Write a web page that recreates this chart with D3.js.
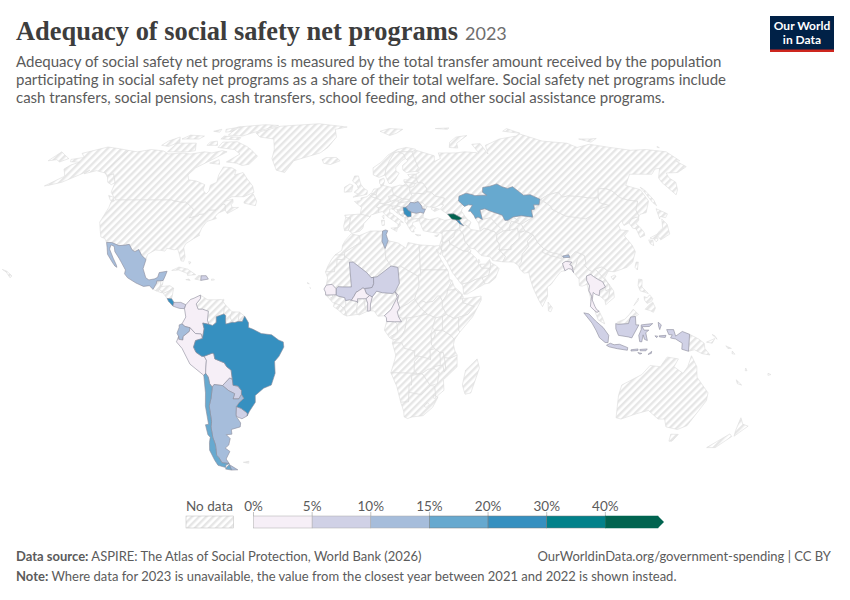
<!DOCTYPE html>
<html>
<head>
<meta charset="utf-8">
<script src="https://cdn.jsdelivr.net/npm/d3@7/dist/d3.min.js"></script>
<style>
  html, body { margin: 0; background: #fff; }
  text { font-family: Lato, sans-serif; }
</style>
</head>
<body>
<svg id="chart" width="850" height="600"></svg>
<script>
// Rough country outlines, "lon,lat lon,lat ...", one string per landmass.
const americas = {
  'United States': ['-123,49 -95,49 -94.6,48.7 -89.5,48 -88,48.2 -84.5,46.5 -82.5,45.3 -82.4,43 -83,42 -79,42.8 -79,43.3 -76.5,43.5 -75,45 -71.5,45 -70,46.5 -69,47.4 -67.8,47 -67,45 -70,43.7 -70.8,42.5 -70,41.7 -74,40.6 -75.5,38 -76,35.5 -75.5,35.3 -78,33.9 -81,32 -81.4,30.5 -80,27 -80.3,25.3 -81.5,25.5 -82.8,28 -84,30 -85.5,29.7 -89,30.3 -89.5,29.2 -91.5,29.5 -94,29.6 -97,28 -97.2,26 -99.5,27.5 -101.5,29.8 -103,29 -104.5,29.7 -106.5,31.8 -108.2,31.5 -111,31.3 -114.8,32.5 -117.1,32.5 -118.5,34 -120.6,34.6 -122.5,37.5 -124.3,40.3 -124,46 -124.7,48.4',
    '-141,69.6 -141,60.2 -137.5,58.9 -135,59.5 -130,55.9 -131,55 -134,56 -136.5,58 -140,59.8 -146,60.8 -151,59.5 -150,61 -153,59 -158,56 -163,54.8 -165,54.5 -160,58.5 -162,59.8 -165,61.5 -164,63.2 -161,64.4 -166.5,64.6 -168,65.6 -162,66.5 -166.5,68.3 -156.5,71.2 -148,70.4',
    '-160,22.2 -157.8,21.5 -155,19.7 -155.7,19 -158,21.2'],
  'Canada': ['-141,69.6 -135,69 -128,70 -120,69.4 -115,68 -108,68.5 -102,68 -95,69 -90,68.5 -85,69.5 -81.5,69 -87,65.5 -93,62 -94.5,59 -92.5,57 -88,56.5 -82.5,55 -82,52.8 -79.5,51.3 -78.8,52.5 -79.5,54.8 -77,56 -78,59 -78,62.4 -73,62 -70,61 -69.5,59 -65.5,60 -62,57.5 -57.5,54.5 -55.7,52 -60,50.2 -66,50.2 -69,48.5 -65,49.2 -64.5,48 -65,47 -64,46 -61,46 -65.5,43.6 -66.5,44.5 -67,45 -67.8,47 -69,47.4 -70,46.5 -71.5,45 -75,45 -76.5,43.5 -79,43.3 -79,42.8 -83,42 -82.4,43 -82.5,45.3 -84.5,46.5 -88,48.2 -89.5,48 -94.6,48.7 -95,49 -123,49 -124.7,50 -128,52 -130,55.9 -135,59.5 -137.5,58.9 -141,60.2',
    '-80,73.7 -72,71.5 -68,70 -62,67 -64.5,63.5 -68,63 -72,64 -78,64.5 -73,68 -78,70 -89,71 -89,73.5',
    '-117,69 -105,69 -101,69.5 -105,73 -117,73', '-125,72 -120,71.5 -116,73.5 -120,76 -124,74',
    '-90,77 -80,76.5 -76,78 -62,82.5 -72,83 -90,81.5', '-92,75 -80,74.6 -80,75.7 -92,76.5',
    '-117,75 -106,75 -105,76.5 -115,77', '-59,47.7 -53,46.7 -53,48.5 -56,51.5 -59,48.5',
    '-87,64 -81,63.5 -83,65.5', '-128,50.7 -125,50 -123.5,48.4 -125.5,48.8', '-97,72 -90.5,72 -93,74 -97,73.5',
    '-96,80 -88,81.5 -90,79 -94,78.5', '-103,79 -98,78.5 -99,80'],
  'Greenland': ['-73,78.2 -60,82 -33,83.6 -12,81.5 -20,80 -18,76 -22,71 -26,68.5 -40,65 -43,60 -48,61 -53,66 -54,70 -58,75 -68,76'],
  'Mexico': ['-117.1,32.5 -114.8,32.5 -111,31.3 -108.2,31.5 -106.5,31.8 -104.5,29.7 -103,29 -101.5,29.8 -99.5,27.5 -97.2,26 -97.8,22.5 -96,19 -94.5,18.2 -92,18.6 -90.8,19.2 -90.4,21 -87,21.5 -87.6,19.5 -88.2,18 -89.1,17.9 -91,17.8 -91,16.9 -92.2,14.6 -94,16 -96.5,15.7 -100,17 -104,19 -105.6,20.5 -105.5,22 -108,25 -109.4,26.5 -112,29 -113,31 -114.7,31.6 -114.7,30 -112,26.5 -110,24 -109.5,23 -110.5,23.5 -112,25 -115,28 -116,30.5'],
  'Guatemala': ['-92.2,14.6 -91,16.9 -91,17.8 -89.1,17.9 -89.2,15.9 -88.3,15.7 -89.3,14.5 -90.5,13.9'],
  'Belize': ['-89.1,17.9 -88.2,18 -88.3,16.2 -89.2,15.9'],
  'Honduras': ['-89.2,15.9 -88.3,15.7 -85,16 -83.2,15 -85,14 -87.5,13 -89.3,14.5'],
  'El Salvador': ['-90.1,13.8 -89.3,14.4 -87.7,13.6 -88,13.2'],
  'Nicaragua': ['-87.5,13 -85,14 -83.2,15 -83.7,11 -85.7,11.1'],
  'Costa Rica': ['-85.7,11.1 -83.7,11 -82.6,9.6 -83,8.2 -85,10'],
  'Panama': ['-83,8.2 -82.6,9.6 -79.6,9.6 -77.4,8.7 -77.9,7.2 -80,7.3 -81.5,7.7'],
  'Cuba': ['-85,21.8 -82,23.1 -78,22.3 -74.2,20.2 -77.7,19.9 -78,20.7 -82,22'],
  'Haiti': ['-74.4,18.5 -72.5,18.2 -71.7,18 -71.7,19.8 -73,19.9'],
  'Dominican Republic': ['-71.7,18 -68.4,18.5 -69.5,19.8 -71.7,19.8'],
  'Jamaica': ['-78.3,18.3 -76.3,18 -77,18.5'],
  'Puerto Rico': ['-67,18 -65.7,18.2 -66,18.5 -67,18.5'],
  'Trinidad': ['-61.9,10.1 -61,10.1 -61,10.8 -61.6,10.7'],
  'Bahamas': ['-78,25.2 -77.5,24.2 -77,25'],
  'Colombia': ['-77.4,8.7 -75.5,10.7 -74,11.2 -71.3,12.4 -71.2,11 -72.9,9 -72,7 -70,7 -67.5,6.2 -67.8,2.8 -67.2,1.2 -69.8,1.7 -69.2,-0.5 -70,-4.2 -70.5,-2.5 -73,-2.3 -75.3,-0.1 -77.5,0.4 -78.8,1.4 -77.2,4 -77.9,7.2'],
  'Venezuela': ['-71.3,12.4 -68,10.6 -64,10.6 -62,10.7 -60,8.5 -60.7,7.5 -60.7,5.2 -64,4.1 -64,1.9 -65.5,0.8 -67.2,1.2 -67.8,2.8 -67.5,6.2 -70,7 -72,7 -72.9,9 -71.2,11'],
  'Guyana': ['-60,8.5 -57.2,6 -58,4 -57,2 -59.8,1.3 -60,2.8 -59.9,4.5 -60.7,5.2 -60.7,7.5'],
  'Suriname': ['-57.2,6 -54,5.9 -54.5,2.3 -56,1.9 -57,2 -58,4'],
  'French Guiana': ['-54,5.9 -51.7,4.3 -52.7,2.3 -54.5,2.3'],
  'Ecuador': ['-80,1 -78.8,1.4 -77.5,0.4 -75.3,-0.1 -75.6,-1.5 -78.3,-3.4 -78.5,-4.8 -80.3,-4.5 -80.3,-3.4 -81,-2.2 -80,0'],
  'Peru': ['-80.3,-3.4 -80.3,-4.5 -78.5,-4.8 -78.3,-3.4 -75.6,-1.5 -75.3,-0.1 -73,-2.3 -70.5,-2.5 -70,-4.2 -73,-5 -74,-7.5 -73,-9.5 -70.6,-11 -69.6,-11 -68.7,-12.5 -69.2,-15.5 -69.5,-17.5 -70.4,-18.3 -76,-14 -79,-8 -81.3,-5.5'],
  'Bolivia': ['-69.6,-11 -66,-9.8 -65.3,-10 -65,-12 -61,-13.5 -60,-15 -58.2,-16.3 -58,-19.8 -59.1,-19.3 -62.6,-22.2 -66.3,-21.8 -67.2,-22.8 -68.2,-21.5 -68.5,-19 -69.5,-17.5 -69.2,-15.5 -68.7,-12.5'],
  'Paraguay': ['-58,-19.8 -57.9,-22.1 -55.8,-22.4 -54.4,-24.1 -54.6,-25.6 -56,-27.3 -58.6,-27.3 -57.6,-25.3 -60,-24.2 -62.6,-22.2 -59.1,-19.3'],
  'Uruguay': ['-58.4,-33.2 -58.4,-34 -56,-34.9 -53.4,-33.8 -53.1,-33 -53.5,-32.4 -55.6,-30.9 -57.6,-30.2'],
  'Brazil': ['-51.7,4.3 -50,1.8 -50,0 -48,-0.7 -44.5,-2.3 -40,-2.8 -37,-4.8 -35,-5.5 -34.8,-7.5 -37,-11 -39,-13 -39,-17.5 -41,-22 -44.5,-23.2 -48.5,-26 -48.8,-28.6 -52,-32 -53.4,-33.8 -53.1,-33 -53.5,-32.4 -55.6,-30.9 -57.6,-30.2 -56,-28.6 -53.8,-27.1 -54.6,-25.6 -54.4,-24.1 -55.8,-22.4 -57.9,-22.1 -58,-19.8 -58.2,-16.3 -60,-15 -61,-13.5 -65,-12 -65.3,-10 -66,-9.8 -69.6,-11 -70.6,-11 -73,-9.5 -74,-7.5 -73,-5 -70,-4.2 -69.2,-0.5 -69.8,1.7 -67.2,1.2 -65.5,0.8 -64,1.9 -64,4.1 -60.7,5.2 -59.9,4.5 -60,2.8 -59.8,1.3 -57,2 -56,1.9 -54.5,2.3 -52.7,2.3'],
  'Argentina': ['-66.3,-21.8 -62.6,-22.2 -60,-24.2 -57.6,-25.3 -58.6,-27.3 -56,-27.3 -54.6,-25.6 -53.8,-27.1 -56,-28.6 -57.6,-30.2 -58.4,-33.2 -58.4,-34 -57,-36.5 -57.6,-38 -62,-39 -62.3,-40.8 -65,-41 -63.7,-42.5 -65.3,-45 -67.5,-46.2 -65.8,-47.5 -69,-50.5 -68.4,-52.3 -71.9,-52 -72.3,-50 -73,-49 -71.7,-45 -71.8,-42 -71.2,-38 -70.3,-36 -70,-33 -69.8,-30 -68.4,-27 -67.2,-22.8',
    '-68.6,-52.7 -65.3,-54.8 -68.6,-54.9'],
  'Chile': ['-69.5,-17.5 -70.4,-18.3 -70.5,-25 -71.5,-30 -72,-37 -73.5,-37.2 -73.7,-41 -73,-42 -74.2,-44 -75.5,-47 -75,-51 -74.5,-53 -71,-53.9 -70.5,-53 -68.4,-52.3 -71.9,-52 -72.3,-50 -73,-49 -71.7,-45 -71.8,-42 -71.2,-38 -70.3,-36 -70,-33 -69.8,-30 -68.4,-27 -67.2,-22.8 -68.2,-21.5 -68.5,-19',
    '-68.6,-52.7 -68.6,-54.9 -71.5,-54.5 -70,-53.5'],
  'Falkland Islands': ['-61,-51.8 -58,-51.4 -58.5,-52.2']
};

const africa = {
  'Morocco': ['-5.9,35.8 -2.2,35.1 -1.3,32.1 -3.5,31.5 -8.7,28.7 -8.7,27.7 -13,27.7 -10,29.5 -9.7,31.5 -8.5,33.3'],
  'Western Sahara': ['-13,27.7 -8.7,27.7 -8.7,26 -12,26 -12,23.4 -13,23 -13,21.3 -17,21.3 -16,23.5 -14.5,26'],
  'Algeria': ['-2.2,35.1 3,36.9 8.6,36.9 8.2,33 9.5,30.2 9.8,26.5 12,23.5 5.8,19.4 4.2,19.2 3.2,19 1.2,21 -4.8,25 -8.7,27 -8.7,28.7 -3.5,31.5 -1.3,32.1'],
  'Tunisia': ['8.6,36.9 10,37.3 11,37 10.2,35.5 11,33.2 10.3,31.8 9.5,30.2 8.2,33'],
  'Libya': ['11,33.2 15.5,32.3 19,30.3 20,32.5 25,31.6 25,20 24,20 24,19.5 16,23.5 15,23 12,23.5 9.8,26.5 9.5,30.2 10.3,31.8'],
  'Egypt': ['25,31.6 32,31.2 34.3,31.3 34.9,29.5 34.2,27.8 32.6,29.9 33.7,27 35.5,24 36.9,22 25,22'],
  'Sudan': ['25,22 36.9,22 37.3,21 37.5,18.5 38.6,18 36.5,14.3 36.2,12.7 35,11 34.1,10 33,12 32,12 30,10 27,9.5 25,10.3 23.5,8.7 22,11 22.9,13.5 24,15.7 24,20 25,20'],
  'South Sudan': ['23.5,8.7 25,7 27.4,5.1 31,3.7 34,4.2 35.8,5 34,8 34.1,10 33,12 32,12 30,10 27,9.5 25,10.3'],
  'Chad': ['15,23 16,23.5 24,19.5 24,15.7 22.9,13.5 22,11 19,9 15.5,7.5 14.5,10 15,12.2 13.6,13.7 15.5,16.9'],
  'Central African Republic': ['14.4,6 15,4 16.5,3.5 18.6,3.6 22.5,4.1 27.4,5.1 25,7 23.5,8.7 22,11 19,9 15.5,7.5'],
  'Niger': ['3.2,19 4.2,19.2 5.8,19.4 12,23.5 15,23 15.5,16.9 13.6,13.7 12.5,13 8,13.3 5.5,13.9 3.6,11.7 2.4,12.2 1,13 0.2,14.9 3.5,15.3 4.2,16.8 4.2,19.2'],
  'Mali': ['-12.2,14.8 -11.4,15.6 -9.3,15.5 -5.5,15.5 -6.5,25 -4.8,25 1.2,21 3.2,19 4.2,19.2 4.2,16.8 3.5,15.3 0.2,14.9 -0.5,15.1 -2,14.2 -3.5,13.4 -4.3,12 -5.5,10.4 -6.2,10.6 -8,10.3 -8.4,11.4 -11.3,12 -12.2,12.5'],
  'Mauritania': ['-17,21.3 -13,21.3 -13,23 -12,23.4 -12,26 -8.7,26 -8.7,27.3 -4.8,25 -6.5,25 -5.5,15.5 -9.3,15.5 -11.4,15.6 -12.2,14.8 -14,16.5 -16.5,16.2 -16,19'],
  'Senegal': ['-16.5,16.2 -14,16.5 -12.2,14.8 -12.2,12.5 -16.7,12.4 -16.8,13.5 -17.5,14.7'],
  'Gambia': ['-16.8,13.6 -14,13.7 -14,13.2 -16.7,13.1'],
  'Guinea-Bissau': ['-16.7,12.4 -13.7,12.6 -13.7,11.7 -15,11'],
  'Guinea': ['-13.7,12.6 -12.2,12.5 -11.3,12 -8.4,11.4 -8,10.3 -7.8,8.5 -9,7.4 -10.3,8.5 -12.9,9.3 -13.7,9.6 -15,11 -13.7,11.7'],
  'Sierra Leone': ['-12.9,9.3 -10.3,8.5 -11.4,6.9 -13.3,8'],
  'Liberia': ['-11.4,6.9 -10.3,8.5 -9,7.4 -8.5,7.6 -7.5,4.4 -9,5'],
  "Cote d'Ivoire": ['-8,10.3 -6.2,10.6 -5.5,10.4 -3,9.9 -2.8,9.5 -3.2,6.5 -2.9,5 -7.5,4.4 -8.5,7.6 -9,7.4 -7.8,8.5'],
  'Burkina Faso': ['-5.5,10.4 -4.3,12 -3.5,13.4 -2,14.2 -0.5,15.1 0.2,14.9 1,13 2.4,12.2 0.9,11 0,11 -2.8,11 -2.8,9.5 -3,9.9'],
  'Ghana': ['-2.8,11 0,11 0.5,8 1.2,6.1 -2,4.8 -2.9,5 -3.2,6.5 -2.8,9.5'],
  'Togo': ['0,11 0.9,11 1.6,9.3 1.6,6.2 1.2,6.1 0.5,8'],
  'Benin': ['0.9,11 2.4,12.2 3.6,11.7 2.8,9 2.7,6.4 1.6,6.2 1.6,9.3'],
  'Nigeria': ['2.7,6.4 2.8,9 3.6,11.7 5.5,13.9 8,13.3 12.5,13 13.6,13.7 14.5,11.5 13,9 11.7,6.8 8.8,4.5 6,4.3 4.4,6.3'],
  'Cameroon': ['8.8,4.5 11.7,6.8 13,9 14.5,11.5 13.6,13.7 15,12.2 14.5,10 15.5,7.5 14.4,6 15,4 16.2,2.2 13.3,2.2 9.8,2.3 9.7,3.8'],
  'Gabon': ['9.8,2.3 13.3,2.2 14.4,1.4 14.5,-2 11.5,-3.5 11.1,-3.9 8.8,-1'],
  'Congo': ['13.3,2.2 16.2,2.2 15,4 16.5,3.5 18.6,3.6 17.7,-1 16.2,-3.5 15.2,-4.3 12.7,-4.7 11.1,-3.9 11.5,-3.5 14.5,-2 14.4,1.4'],
  'Democratic Republic of Congo': ['18.6,3.6 22.5,4.1 27.4,5.1 31,3.7 29.7,0 29,-2.5 29.3,-6.5 30.8,-8.2 28.7,-8.5 29,-12.3 27.5,-11.8 24,-11 22,-11 22,-9 17.5,-8 16.3,-5.9 12.3,-6 12.7,-4.7 15.2,-4.3 16.2,-3.5 17.7,-1'],
  'Angola': ['12.3,-6 16.3,-5.9 17.5,-8 22,-9 22,-11 24,-11 22,-13 22,-16.5 23.4,-17.6 18.4,-17.4 11.8,-17.3 13.5,-12 13.8,-10.5'],
  'Zambia': ['24,-11 27.5,-11.8 29,-12.3 28.7,-8.5 30.8,-8.2 32.9,-9.4 33.3,-12 33.3,-14.5 30.7,-15 30.7,-15.7 28,-16 25.3,-17.7 23.4,-17.6 22,-16.5 22,-13'],
  'Namibia': ['11.8,-17.3 18.4,-17.4 23.4,-17.6 25.3,-17.7 21,-18.3 21,-22 20,-22 20,-28.4 16.5,-28.6 14.5,-22.5'],
  'Botswana': ['20,-22 21,-22 21,-18.3 25.3,-17.7 26,-18 29.3,-22.2 25.5,-25.7 23,-25.3 20,-24.8'],
  'Zimbabwe': ['25.3,-17.7 28,-16 30.7,-15.7 33,-17 32.5,-21.5 29.3,-22.2 26,-18'],
  'South Africa': ['16.5,-28.6 20,-28.4 20,-24.8 23,-25.3 25.5,-25.7 29.3,-22.2 31.3,-22.4 32,-26 32.9,-26.9 31,-30.5 27,-33.7 22,-34.2 20,-34.8 18.4,-34.2 18,-32'],
  'Lesotho': ['27,-30 28.5,-28.7 29.4,-29.5 28,-30.6'],
  'Eswatini': ['31,-25.8 32,-26 31.9,-27.2 30.9,-26.9'],
  'Mozambique': ['40.5,-10.5 40.7,-15 35,-20 35.5,-24 32.9,-26 32.9,-26.9 32,-26 31.3,-22.4 32.5,-21.5 33,-17 30.7,-15.7 30.7,-15 33.3,-14.5 34.5,-14.5 35.2,-17 35.8,-16 35,-11.5 37.5,-11.7'],
  'Malawi': ['32.9,-9.4 34.5,-9.6 35,-11.5 35.8,-16 35.2,-17 34.5,-14.5 33.3,-14.5 33.3,-12'],
  'Tanzania': ['29.3,-6.5 29.3,-4.4 30.2,-4.2 30.8,-2.4 30.5,-1 33.9,-1 37.7,-3 39.2,-4.7 38.8,-6.5 39.5,-9 40.5,-10.5 37.5,-11.7 35,-11.5 34.5,-9.6 32.9,-9.4 30.8,-8.2'],
  'Kenya': ['33.9,-1 34,4.2 35.8,5 39,3.5 41,3.9 41,-1 41.5,-1.7 39.2,-4.7 37.7,-3'],
  'Uganda': ['29.7,0 31,3.7 34,4.2 33.9,-1 30.5,-1'],
  'Rwanda and Burundi': ['29,-2.5 30.5,-1 30.8,-2.4 30.2,-4.2 29.3,-4.4'],
  'Ethiopia': ['36.5,14.3 37.5,14.4 40,14.5 42.7,12.5 41.8,11 42.9,11 43,9.5 48,8 45,5 41,3.9 39,3.5 35.8,5 34,8 34.1,10 35,11 36.2,12.7'],
  'Eritrea': ['36.5,14.3 38.6,18 39.5,15.5 43,12.7 42.7,12.5 40,14.5 37.5,14.4'],
  'Djibouti': ['41.8,11 42.7,12.5 43.3,11.6 42.9,11'],
  'Somalia': ['42.9,11 51,12 51,10.5 47,4 41.5,-1.7 41,-1 41,3.9 45,5 48,8 43,9.5'],
  'Madagascar': ['49.3,-12 50.5,-15.5 47.5,-25 45,-25.5 43.5,-22 44.5,-16.3'],
  'Cape Verde': ['-25,17.1 -24,16.6 -24.2,16.9', '-23.7,15.3 -23.2,14.9 -23.5,15.1']
};

const europe = {
  'Russia': ['30.8,69.8 41,67.2 40,64.7 44,66 44,68.5 54,68.5 60,69 68,68.5 67,72.5 72.5,72.8 73,68 75,72 81,73.5 87,75 100,76.5 104,77.7 113,74 127,73 130,71 140,72.5 150,71 160,69.7 170,70 179.9,69 179.9,65 177.5,64.7 179,62.5 170,60 163.5,59.8 162,57.8 163,56 160,53 156.8,51 155.6,56 156.5,57.8 163,61.8 160,61.5 155,59.3 143,59.3 135.3,54.7 141,53 140.5,48.5 135.5,44 132,43.3 130.7,42.4 131,42.9 131.2,45 135,48.4 130.7,48.8 127.5,49.8 126,52.5 123.5,53.5 119.7,53.3 116.7,49.8 113,49.6 106.5,50.3 102,50.5 98.9,50 98.3,52 92,50.8 87.8,49.2 87.3,49.2 83.5,51 80,50.8 76.5,54.2 73.5,53.5 71,54.2 69,55.3 65,54.4 61,53.9 60,52 61.5,50.8 59,50.8 55.5,50.6 54.5,51 51.5,51.6 47.5,50.4 46.7,48.5 49,46.4 47.5,45.5 47,44.5 48.5,41.8 46.5,41.8 43,43.5 40,43.4 37,45.3 39,47 38,47.2 40,49.6 35.5,50.4 34,52 31.8,52.1 32,53.5 30.8,55.6 28,56 27.5,57.6 28,59.4 30,60 28,60.5 30,62 29,66 28.5,69',
    '-179.9,69 -175,67.5 -170,66 -172.5,64.5 -176,65.5 -179.9,65', '142,54 143,53 143.5,49 142.8,46.7 142,48 142,52',
    '52,71 57,70.7 58,73 68,76.8 60,76 54,73.5', '95,79 105,78 100,80.5', '20,54.4 22.8,54.4 22,55.3 21,55.2', '138,75 145,75 150,75.3 143,73.5',
    '50,80.5 60,80.9 58,80', '178.8,71 179.9,71.5 179.9,70.9'],
  'Belarus': ['23.5,51.6 23.2,52.5 23.5,53.9 25.5,54.3 26.7,55.5 28,56 30.8,55.6 32,53.5 31.8,52.1 30.5,51.3 27,51.5'],
  'Ukraine': ['22.2,48.4 22.5,49.1 22.8,49.5 24,50.7 23.5,51.6 27,51.5 30.5,51.3 31.8,52.1 34,52 35.5,50.4 40,49.6 38,47.2 35,46.2 33.5,46 36.5,45.3 34,44.4 32.5,45.4 33.5,46 30.7,46.3 29.7,45.3 28.2,45.5 28.2,46.5 26.7,48.3 24.9,47.8 22.9,48'],
  'Moldova': ['26.7,48.3 29,47.8 30,46.6 30.7,46.3 29.7,45.3 28.2,45.5 28.2,46.5'],
  'Romania': ['20.3,46.1 21.5,46.7 22.9,48 24.9,47.8 26.7,48.3 28.2,46.5 28.2,45.5 29.7,45.3 28.6,43.7 27,44.1 25,43.7 22.6,44.2 21.4,44.8'],
  'Serbia': ['19,46 20.3,46.1 21.4,44.8 22.6,44.2 22.4,42.5 20.8,42.3 19.8,43.2 19.2,43.5 19.2,44.4 19,44.9'],
  'Bulgaria': ['22.4,42.5 22.6,44.2 25,43.7 27,44.1 28.6,43.7 28,42 26.2,41.7 24,41.5 22.9,41.4'],
  'Greece': ['20,39.7 20.9,40.9 22.9,41.4 24,41.5 26.2,41.7 26.3,40.9 23.9,40.4 23,40.3 22.7,39.3 24,38 23,37.4 23.2,36.5 22,36.6 21,38', '23.6,35.6 26.2,35.3 24.8,35'],
  'Albania': ['19.4,42 20.5,42.5 20.9,40.9 20,39.7 19.3,40.5'],
  'North Macedonia': ['20.8,42.3 22.4,42.5 22.9,41.4 20.9,40.9 20.5,42.5'],
  'Montenegro': ['18.5,42.6 19.2,43.5 19.8,43.2 20.5,42.5 19.4,42'],
  'Bosnia': ['15.8,45.2 19,44.9 19.2,44.4 19.2,43.5 18.5,42.6 17.5,43'],
  'Croatia': ['13.6,45.4 14,45.5 16.5,46.5 19,46 19,44.9 15.8,45.2 17.5,43 18.5,42.5 15.5,44 14.5,45'],
  'Slovenia': ['13.6,45.5 13.7,46.5 16.5,46.8 16.5,46.5 14,45.5'],
  'Hungary': ['16.2,47 17,48 18.8,48 22.2,48.4 22.9,48 21.5,46.7 20.3,46.1 19,46 16.5,46.5'],
  'Slovakia': ['17,48 17,48.7 19,49.5 22.5,49.1 22.2,48.4 18.8,48'],
  'Austria': ['9.6,47.4 10.5,46.9 12.2,47 13.7,46.5 16.5,46.8 16.2,47 17,48 15,49 13,48.3'],
  'Czechia': ['12.2,50.3 14.8,51 18.8,49.5 17,48.7 15,49 13,48.3'],
  'Poland': ['14.2,53.9 18.5,54.8 22.8,54.4 23.5,53.9 23.2,52.5 23.5,51.6 24,50.7 22.8,49.5 22.5,49.1 19,49.5 14.8,51'],
  'Germany': ['7,53.5 8.7,54 8.7,54.9 11,54.5 14.2,53.9 14.8,51 12.2,50.3 13,48.3 9.6,47.6 7.6,47.6 8.2,49 6.2,49.5 6,51'],
  'Netherlands': ['3.4,51.4 6,51 7,53.3 5,53.3 4,51.9'],
  'Belgium': ['2.6,51 3.4,51.4 6,51 6.2,49.6 4.2,50'],
  'France': ['-1.8,43.4 -1.2,46 -4.7,48.3 -1.5,48.7 -1.5,49.7 1.5,50.2 2.6,51 4.2,50 6.2,49.5 8.2,49 7.6,47.6 6,46.3 7,45.9 7,44 3.2,43 3,42.4', '8.6,42.5 9.5,43 9.4,41.5'],
  'Switzerland': ['6,46.3 7.6,47.6 9.6,47.4 10.5,46.9 8.5,46.2 7,45.9'],
  'Italy': ['7,44 7,45.9 8.5,46.2 10.5,46.9 12.2,47 13.7,46.5 13.6,45.5 12.3,45.3 12.4,44 13.6,43.5 16,41.9 18.5,40.1 16.9,40.5 17,39 15.7,38 16,39.5 14,40.8 11,42.5 8.8,44.4',
    '12.5,38 15.6,38.2 15.1,36.7', '8.2,41 9.7,41 9.5,39.1 8.5,39'],
  'Spain': ['-9.2,43 -1.8,43.4 3,42.4 0,39.8 -0.5,38 -2,36.8 -5.5,36 -7.3,37.2 -7,38 -6.5,41.8 -8.7,42'],
  'Portugal': ['-8.7,42 -6.5,41.8 -7,38 -7.3,37.2 -9,37 -9.5,38.8'],
  'United Kingdom': ['-5.5,50 -1,50.7 1.5,51.2 1.7,52.7 0,53.5 -1.5,55 -2,56 -3,58.6 -5,58.6 -6,56.5 -3.5,54.8 -3,53.4 -5,52 -3,51.3'],
  'Ireland': ['-10,52 -6.3,52.2 -6,53.5 -5.6,54.7 -7.3,55.3 -10,54'],
  'Iceland': ['-24,65.5 -22,66.4 -16,66.5 -13.6,65 -18.8,63.4 -22.7,63.9'],
  'Denmark': ['8.1,55.6 8.7,54.9 10,54.8 10.8,56.5 10.5,57.7 8.2,57'],
  'Norway': ['5,59 5,62 10,64.5 14,67.5 20,70 25.8,71 31,70.2 30.8,69.8 28.5,69 25.5,69 20.5,69 18,68.5 14.5,65 12,61.3 11.3,59 8,58'],
  'Svalbard': ['11,79 17,76.8 22,78 27,80 18,80.5'],
  'Sweden': ['11.3,59 12,61.3 14.5,65 18,68.5 20.5,69 23.6,67.9 23.8,66 21.5,65 17.5,62 17.5,60.5 19,59.8 16.5,57 14.3,55.5 13,55.5'],
  'Finland': ['20.5,69 25.5,69 28.5,69 29,66 30,62 28,60.5 23,60 21.3,61 21.5,63 25,65 23.8,66 23.6,67.9'],
  'Estonia': ['23.5,59.2 28,59.4 27.5,57.6 24.5,58'],
  'Latvia': ['21,57 21,56.1 26.7,55.5 28,56 27.5,57.6 24.5,58 23,57'],
  'Lithuania': ['21,56.1 22,55.3 22.8,54.4 23.5,53.9 25.5,54.3 26.7,55.5'],
  'Cyprus': ['32.4,35 34.5,35.6 33.5,34.7']
};

const asiaPacific = {
  'Turkey': ['26.3,40 26.2,41.7 28,42 31,41.2 35,42 38,41 41.5,41.5 43.5,41.1 44.8,39.7 44.5,37.8 42.5,37.2 36.5,36.8 36,36 33,36.2 30.5,36.5 27.5,37'],
  'Syria': ['36,36 36.5,36.8 42.5,37.2 41.2,34.7 38.8,33.4 36.6,32.4 35.7,32.7 35.9,35'],
  'Iraq': ['42.5,37.2 44.5,37.3 45.7,35.8 46,33 48,30.4 47.5,29.9 46.5,29.1 44.7,29.2 39,32 38.8,33.4 41.2,34.7'],
  'Lebanon': ['35.1,33.1 35.9,33.5 36.5,34.5 35.9,34.6'],
  'Israel': ['34.3,31.3 34.9,29.5 35.7,32.7 35,33'],
  'Jordan': ['34.9,29.5 36.8,29.2 39,32 38.8,33.4 36.6,32.4 35.7,32.7'],
  'Saudi Arabia': ['34.9,29.5 36.8,29.2 39,32 44.7,29.2 46.5,29.1 47.7,28.6 48.8,27.7 50,26.5 50.8,24.7 52,22.8 55.2,22.7 55.7,22 55,20 52,19 48.8,18.3 46.5,17.2 43.2,16.7 42.7,16.5 39,21 37,25 35,28'],
  'Yemen': ['43.2,16.7 46.5,17.2 48.8,18.3 52,19 53,16.7 45,12.8 43.5,12.7'],
  'Oman': ['52,19 55,20 55.7,22 56.3,24.8 58.7,23.6 59.8,22.5 57.8,18.9 55,17 53,16.7'],
  'United Arab Emirates': ['51.5,24.2 52,22.8 55.2,22.7 55.7,22 56.3,24.8 56,26 54,24.2'],
  'Qatar': ['50.8,24.7 51.6,25 51.2,26.1'],
  'Kuwait': ['47.5,29.9 48.2,29.4 47.7,28.6 46.5,29.1'],
  'Iran': ['44.8,39.7 47.5,39.3 48.9,38.4 49.5,37.5 53.8,36.9 56,38 60.5,36.6 61.2,35.5 60.5,33.5 61.7,31.4 60.9,29.8 63.3,27.1 61.7,25.1 57.3,25.6 56.5,27 52.5,27.5 50,30 48,30.4 46,33 45.7,35.8 44.5,37.3 44.5,37.8'],
  'Afghanistan': ['61.2,35.5 64.5,37 67.5,37.2 71.5,38 71.3,36.5 74.5,37 71.6,36 71,34 69.5,33 66.5,31.2 66.3,29.9 61,29.5 60.9,29.8 61.7,31.4 60.5,33.5'],
  'Pakistan': ['60.9,29.8 61,29.5 66.3,29.9 66.5,31.2 69.5,33 71,34 71.6,36 74.5,37 77.8,35.5 74.5,33 74.5,31 71,28 70,25 68.5,23.7 66.5,25 61.7,25.1 63.3,27.1'],
  'India': ['77.8,35.5 79,32.5 81,30.2 80.1,28.8 84,27.4 88.1,26.4 88.2,27.9 88.9,27.3 89,26.8 92,26.8 95,29 97.3,28.2 95.2,26 94,23.5 93,22 92.2,23.6 91.3,24 92.4,25 89.8,25.3 88.2,24.5 88.8,21.7 87,21.4 85,19.6 82,16.5 80.2,15.5 80,12 77.5,8 76,10.5 74,15 73,19 72.8,21 70.5,20.8 69,22.3 68.5,23.7 70,25 71,28 74.5,31 74.5,33'],
  'Nepal': ['80.1,28.8 81,30.2 84,28.7 88.2,27.9 88.1,26.4 84,27.4'],
  'Bhutan': ['88.9,27.3 91.7,27.8 92,26.8 89,26.8'],
  'Bangladesh': ['88.2,24.5 89.8,25.3 92.4,25 91.3,24 92.2,23.6 92.5,21 91.8,22.3 90.5,22.5 88.8,21.7'],
  'Sri Lanka': ['80,9.7 81.8,7.5 81,6 80,6.3'],
  'Myanmar': ['92.5,21 92.2,23.6 93,22 94,23.5 95.2,26 97.3,28.2 98.7,27.5 98.7,24.5 97.7,24 99.5,22 101,21.3 100,20.3 98,19.7 97.8,18 98.7,16 98.2,14 99.2,12 98.7,10.2 98.5,12 97.7,16.5 95.5,15.8 94.3,16 94.5,18.5'],
  'Thailand': ['100,20.3 101,19.5 103,18.3 104.7,17.5 105.6,15.5 103,14.3 102.5,12.2 100.9,12.7 100,13.4 99.3,10.5 100.3,8 101,6.8 102,6.2 101,5.8 100.1,6.4 98.3,8 98.7,10.2 99.2,12 98.2,14 98.7,16 97.8,18 98,19.7'],
  'Laos': ['101,21.3 102.2,22.4 105.3,19 107.5,16.3 107.5,14.7 105.6,14 105.6,15.5 104.7,17.5 103,18.3 101,19.5 100,20.3'],
  'Cambodia': ['103,14.3 105.6,15.5 105.6,14 107.5,14.7 106.5,11 104.8,10.4 102.5,12.2'],
  'Vietnam': ['102.2,22.4 105.5,23.2 108,21.5 105.8,19 109,14 109,11.5 105,8.7 104.8,10.4 106.5,11 107.5,14.7 107.5,16.3 105.3,19'],
  'Malaysia': ['100.1,6.4 101,5.8 102,6.2 103.4,3.5 104.2,1.4 101.5,2.8 100.4,5.5', '109.6,2 111.5,2.7 113,3.2 115,5 116.8,7 119,5 117.6,4.2 115.5,4 114.5,1.5 110,1.2'],
  'Indonesia': ['95.3,5.6 97.5,5.2 100.3,2.5 103.5,0 106,-3 105.8,-5.8 104.5,-5.7 102,-3.9 100.4,-1 98.7,1.7',
    '105.2,-6.8 106.8,-6 108.5,-6.6 110.8,-6.4 114.5,-7.7 114.4,-8.7 110,-8.1 106.4,-7.4',
    '109,1.5 110,1.2 114.5,1.5 115.5,4 117.6,4.2 117.7,1 119,1 116,-4 114.5,-3.6 110.2,-3 109,-0.5',
    '120,1 125,1.5 123.5,0.4 120.3,0.3 121.3,-1 123.3,-1 122,-2 122.8,-5 121.5,-4.5 120.9,-2.8 120.4,-5.5 119.5,-5.4 119,-3 120,-0.8',
    '116,-8.5 119,-8.2 119,-8.8 116,-9', '119.8,-8.4 123,-8.2 122.5,-8.9 120,-8.9', '119,-9.6 120.8,-9.9 120,-10.2',
    '123.5,-10.3 125,-9.1 124.9,-9.9', '127.4,2 128.7,1 128,-0.8 127.5,0.5', '127.8,-3.2 130.8,-3 130.5,-3.8 128,-3.6',
    '126,-3.2 127.2,-3.3 126.8,-3.9', '131,-0.8 134,-0.8 135,-3.3 137.8,-1.5 141,-2.6 141,-9.1 138,-8.3 138,-6 135,-4.4 132.8,-4 133.5,-2.8 132,-2.7'],
  'Papua New Guinea': ['141,-2.6 145,-4.4 147.5,-6 148,-8 150.5,-10.5 147,-10 143.5,-8.5 141,-9.1', '148.5,-5.6 152,-4.2 151,-6', '150.8,-2.7 153,-4.5 152,-3.2'],
  'Solomon Islands': ['157,-7 159.5,-8 158,-8', '160,-9 161.3,-10.2 160,-10'],
  'Vanuatu': ['167,-15.5 167.8,-16.5 167,-16.5'],
  'New Caledonia': ['164,-20 167,-22 165,-21.5'],
  'Fiji': ['177.3,-17.5 178.7,-18 177.5,-18.3'],
  'Philippines': ['120.7,18.5 122.2,18.3 121.6,15.5 124,13 122.5,13.5 120.6,14 120,16', '122,7 123.7,8.5 125.5,9.7 126.5,7.5 125.5,5.8 124,6.5',
    '122,11.8 123.3,11.4 124.5,12.5 125.7,11 125,10 123,9.2 122,10.5', '117.2,8.4 119.5,11.3 119.2,10.2'],
  'Taiwan': ['121,25 122,25 120.9,22 120.1,23'],
  'Japan': ['130.9,34.2 135,35.7 137,37 139,38 140,40 141,41.5 142,39.5 140.8,35.7 139,35 135.5,33.5 135,34.7 132,33.9',
    '130,33.5 131.8,33.3 131.2,31.3 130,32', '132.5,33.8 134.5,34.2 134,33.3 133,32.8', '140,41.5 141.5,45.5 145.3,43.5 143.2,42 141,42.5'],
  'South Korea': ['126.5,37.7 128.4,38.6 129.4,36.5 129,35.2 126.5,34.4'],
  'North Korea': ['124.4,40 126.9,41.7 130.7,42.4 129.7,41 127.5,39.7 128.4,38.6 126.5,37.7 125,38'],
  'China': ['73.6,39.5 80.2,42.2 80.8,45 82.5,45.3 83,47 85.6,47 87.5,49 91,46.5 91,45.2 96,42.7 105,41.6 111,43.7 112,45 119.7,46.7 115.8,47.8 116.7,49.8 119.7,53.3 123.5,53.5 126,52.5 127.5,49.8 130.7,48.8 135,48.4 131.2,45 131,42.9 130.7,42.4 126.9,41.7 124.4,40 121.5,39 121.5,40.8 119,39.2 119,37.3 122.5,37 119.5,35 121.5,31.5 122,29 119.5,25 116.5,23 110.5,21.3 108,21.5 105.5,23.2 102.2,22.4 101,21.3 99.5,22 97.7,24 98.7,24.5 98.7,27.5 97.3,28.2 95,29 92,26.8 91.7,27.8 88.9,27.3 88.2,27.9 84,28.7 81,30.2 79,32.5 77.8,35.5 74.5,37',
    '108.7,19.4 110.5,20 111,19.6 109.5,18.2'],
  'Mongolia': ['87.8,49.2 92,50.8 98.3,52 98.9,50 102,50.5 106.5,50.3 113,49.6 116.7,49.8 115.8,47.8 119.7,46.7 112,45 111,43.7 105,41.6 96,42.7 91,45.2 91,46.5'],
  'Kazakhstan': ['46.7,48.5 47.5,50.4 51.5,51.6 54.5,51 55.5,50.6 59,50.8 61.5,50.8 60,52 61,53.9 65,54.4 69,55.3 71,54.2 73.5,53.5 76.5,54.2 80,50.8 83.5,51 87.3,49.2 85.6,47 83,47 82.5,45.3 80.8,45 80.2,42.2 75,42.8 70.9,42.3 68,41 66.5,41 66,43 61,44.5 58.5,45.5 56,45 56,41.3 54.2,42.3 52.8,41.7 52.5,42.8 51.3,44.5 50.3,44.5 53,46.9 51,47 49,46.4'],
  'Uzbekistan': ['56,45 58.5,45.5 61,44.5 66,43 66.5,41 68,41 70.9,42.3 73,40.8 71,40.2 69.5,40.6 68.5,39.5 67.5,37.2 64.5,37 62,39.5 60,42 56,41.3'],
  'Turkmenistan': ['52.8,41.7 54.2,42.3 56,41.3 60,42 62,39.5 64.5,37 61.2,35.5 60.5,36.6 56,38 53.8,36.9 53.8,39.8'],
  'Kyrgyzstan': ['70.9,42.3 75,42.8 80.2,42.2 73.6,39.5 71,40.2 73,40.8'],
  'Tajikistan': ['67.5,37.2 68.5,39.5 69.5,40.6 71,40.2 73.6,39.5 74.5,37 71.3,36.5 71.5,38'],
  'Azerbaijan': ['45,41.1 46.5,41.8 48.5,41.8 50.3,40.3 48.9,38.4 47.5,39.3 46.5,38.9 45.5,40'],
  'Armenia': ['43.5,41.1 45,41.1 45.5,40 46.5,38.9 44.8,39.7'],
  'Georgia': ['40,43.4 43,43.5 46.5,41.8 45,41.1 43.5,41.1 41.5,41.5'],
  'Australia': ['114,-22 113.5,-26 115.5,-34.5 118,-35 124,-33 129,-31.7 135,-35 138,-35 140.5,-38 146.5,-39 150,-37.5 153.5,-28 153,-25 146.5,-19 145.5,-15 142.5,-10.8 141.5,-15 140,-17.5 135.5,-15 137,-12 132,-11.3 129.5,-15 125,-14.5 122,-18',
    '144.7,-40.8 148.3,-40.9 147.5,-43.5 146,-43.5'],
  'New Zealand': ['172.7,-34.5 175.5,-37 178.5,-37.7 175.3,-41.6 174,-39.3', '172.5,-40.7 174.3,-41.7 170.7,-46 166.5,-46']
};

const reportedCountries = ['Mexico', 'Costa Rica', 'Panama', 'Dominican Republic', 'Colombia', 'Ecuador', 'Peru', 'Bolivia', 'Paraguay', 'Uruguay', 'Brazil', 'Argentina', 'Chile', 'Tunisia', 'Mali', 'Niger', 'Burkina Faso', 'Senegal', 'Benin', 'Cameroon', 'Serbia', 'Romania', 'Armenia', 'Georgia', 'Kazakhstan', 'Bhutan', 'Bangladesh', 'Thailand', 'Indonesia'];
const reportedValues = [13, 22, 7, 7, 3, 12, 3, 3, 7, 7, 24, 13, 18, 12, 7, 7, 3, 3, 3, 3, 23, 13, 24, 45, 17, 13, 3, 3, 7];

const legendBreaks = [5, 10, 15, 20, 30, 40];
const legendColors = ['#f6eff7', '#d0d1e6', '#a6bddb', '#67a9cf', '#3690c0', '#02818a', '#016450'];
const legendLabels = ['0%', '5%', '10%', '15%', '20%', '30%', '40%'];

const subtitleLines = [
  'Adequacy of social safety net programs is measured by the total transfer amount received by the population',
  'participating in social safety net programs as a share of their total welfare. Social safety net programs include',
  'cash transfers, social pensions, cash transfers, school feeding, and other social assistance programs.'
];

// Robinson table, every 5 degrees of latitude.
const robinsonX = [1, .9986, .9954, .99, .9822, .973, .96, .9427, .9216, .8962, .8679, .835, .7986, .7597, .7186, .6732, .6213, .5722, .5322];
const robinsonY = [0, .062, .124, .186, .248, .31, .372, .434, .4958, .5571, .6176, .6769, .7346, .7903, .8435, .8936, .9394, .9761, 1];

function robinsonRaw(lambda, phi) {
  const deg = Math.min(Math.abs(phi) * 180 / Math.PI, 89.999);
  const i = Math.floor(deg / 5);
  const t = deg / 5 - i;
  const plen = robinsonX[i] + (robinsonX[i + 1] - robinsonX[i]) * t;
  const pdfe = robinsonY[i] + (robinsonY[i + 1] - robinsonY[i]) * t;
  return [0.8487 * plen * lambda, 1.3523 * pdfe * (phi < 0 ? -1 : 1)];
}

function toFeature(name, rings) {
  const polys = rings.map(str => {
    const ring = str.split(' ').map(p => p.split(',').map(Number));
    ring.push(ring[0]);
    // spherical winding: flip rings that came out inside-out
    if (d3.geoArea({ type: 'Polygon', coordinates: [ring] }) > 2 * Math.PI) ring.reverse();
    return [ring];
  });
  return { type: 'Feature', properties: { name }, geometry: { type: 'MultiPolygon', coordinates: polys } };
}

const shapes = Object.assign({}, americas, africa, europe, asiaPacific);
const features = Object.keys(shapes).map(name => toFeature(name, shapes[name]));
const valueByName = new Map(reportedCountries.map((c, i) => [c, reportedValues[i]]));

const svg = d3.select('#chart');
const projection = d3.geoProjection(robinsonRaw).scale(156).translate([364, 327.5]).precision(0);
const path = d3.geoPath(projection);
const color = d3.scaleThreshold().domain(legendBreaks).range(legendColors);

const defs = svg.append('defs');
const hatch = defs.append('pattern')
  .attr('id', 'nodata').attr('patternUnits', 'userSpaceOnUse')
  .attr('width', 5).attr('height', 5)
  .attr('patternTransform', 'rotate(45)');
hatch.append('rect').attr('width', 5).attr('height', 5).attr('fill', '#fff');
hatch.append('rect').attr('width', 2.4).attr('height', 5).attr('fill', '#e6e6e6');

// Map
const noData = features.filter(f => !valueByName.has(f.properties.name));
const withData = features.filter(f => valueByName.has(f.properties.name));

svg.append('g').selectAll('path').data(noData).join('path')
  .attr('d', path)
  .attr('fill', 'url(#nodata)')
  .attr('stroke', '#dcdcdc')
  .attr('stroke-width', 0.6);

svg.append('g').selectAll('path').data(withData).join('path')
  .attr('d', path)
  .attr('fill', d => color(valueByName.get(d.properties.name)))
  .attr('stroke', '#8c8c9a')
  .attr('stroke-width', 0.6);

// Header
svg.append('text').attr('x', 16).attr('y', 40)
  .attr('textLength', 442).attr('lengthAdjust', 'spacingAndGlyphs')
  .style('font-family', "'Liberation Serif', serif").style('font-weight', 700).style('font-size', '27px')
  .attr('fill', '#3d3d3d')
  .text('Adequacy of social safety net programs');
svg.append('text').attr('x', 465).attr('y', 40)
  .style('font-size', '18px').attr('fill', '#6e6e6e').text('2023');

svg.append('g').selectAll('text').data(subtitleLines).join('text')
  .attr('x', 16).attr('y', (d, i) => 66.5 + i * 18)
  .style('font-size', '15px').attr('fill', '#5b5b5b')
  .text(d => d);

// Logo
const logo = svg.append('g');
logo.append('rect').attr('x', 770).attr('y', 16).attr('width', 64).attr('height', 36).attr('fill', '#002147');
logo.append('rect').attr('x', 770).attr('y', 49.5).attr('width', 64).attr('height', 2.5).attr('fill', '#ce261e');
logo.append('text').attr('x', 802).attr('y', 29.5).attr('text-anchor', 'middle')
  .style('font-size', '12px').style('font-weight', 700).attr('fill', '#fff').text('Our World');
logo.append('text').attr('x', 802).attr('y', 44).attr('text-anchor', 'middle')
  .style('font-size', '12px').style('font-weight', 700).attr('fill', '#fff').text('in Data');

// Legend
const legendTop = 516;
const legendHeight = 12;
const legendX = d3.scaleLinear().domain([0, legendColors.length]).range([253.5, 664]);
const legend = svg.append('g');

legend.selectAll('line').data(legendLabels).join('line')
  .attr('x1', (d, i) => legendX(i)).attr('x2', (d, i) => legendX(i))
  .attr('y1', legendTop - 4).attr('y2', legendTop)
  .attr('stroke', '#999').attr('stroke-width', 0.6);

legend.selectAll('rect').data(legendColors).join('rect')
  .attr('x', (d, i) => legendX(i))
  .attr('y', legendTop)
  .attr('width', (d, i) => i === legendColors.length - 1 ? legendX(i + 1) - legendX(i) - 6 : legendX(i + 1) - legendX(i))
  .attr('height', legendHeight)
  .attr('fill', d => d)
  .attr('stroke', (d, i) => i < 3 ? '#aaa' : d === '#016450' ? '#016450' : '#777')
  .attr('stroke-width', 0.5);

const lastX = legendX(legendColors.length);
legend.append('path')
  .attr('d', d3.line()([[lastX - 6, legendTop], [lastX, legendTop + legendHeight / 2], [lastX - 6, legendTop + legendHeight]]))
  .attr('fill', '#016450');

legend.selectAll('text.tick').data(legendLabels).join('text')
  .attr('class', 'tick')
  .attr('x', (d, i) => legendX(i))
  .attr('y', 510.5)
  .attr('text-anchor', 'middle')
  .style('font-size', '13.5px').attr('fill', '#5b5b5b')
  .text(d => d);

legend.append('text').attr('x', 186).attr('y', 510.5).style('font-size', '13.5px').attr('fill', '#5b5b5b').text('No data');
legend.append('rect').attr('x', 186).attr('y', legendTop).attr('width', 47.5).attr('height', legendHeight)
  .attr('fill', 'url(#nodata)').attr('stroke', '#bbb').attr('stroke-width', 0.5);

// Footer
const source = svg.append('text').attr('x', 16).attr('y', 561).style('font-size', '13px').attr('fill', '#5b5b5b');
source.append('tspan').style('font-weight', 700).text('Data source:');
source.append('tspan').text(' ASPIRE: The Atlas of Social Protection, World Bank (2026)');
svg.append('text').attr('x', 831).attr('y', 561).attr('text-anchor', 'end')
  .style('font-size', '13px').attr('fill', '#5b5b5b')
  .text('OurWorldinData.org/government-spending | CC BY');
const note = svg.append('text').attr('x', 16).attr('y', 581).style('font-size', '13px').attr('fill', '#5b5b5b');
note.append('tspan').style('font-weight', 700).text('Note:');
note.append('tspan').text(' Where data for 2023 is unavailable, the value from the closest year between 2021 and 2022 is shown instead.');
</script>
</body>
</html>
